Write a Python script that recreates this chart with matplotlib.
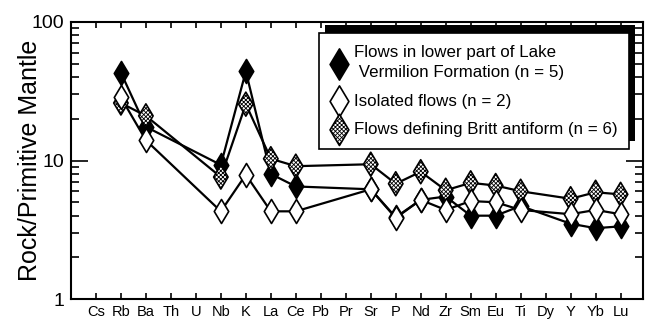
import matplotlib.pyplot as plt
from matplotlib.patches import Rectangle
from matplotlib.ticker import NullFormatter
from matplotlib.transforms import IdentityTransform

# element order on the x axis (spider diagram)
elements = ["Cs", "Rb", "Ba", "Th", "U", "Nb", "K", "La", "Ce", "Pb", "Pr",
            "Sr", "P", "Nd", "Zr", "Sm", "Eu", "Ti", "Dy", "Y", "Yb", "Lu"]
# elements that actually have analyses
analysed = ["Rb", "Ba", "Nb", "K", "La", "Ce", "Sr", "P", "Nd", "Zr",
            "Sm", "Eu", "Ti", "Y", "Yb", "Lu"]

lower_lake_vermilion = [43, 17.5, 9.3, 44, 8.0, 6.5, 6.2, 3.9, 5.2, 5.5,
                        4.0, 4.0, 4.7, 3.5, 3.25, 3.35]
isolated_flows = [28.5, 14, 4.3, 7.9, 4.3, 4.3, 6.2, 3.85, 5.2, 4.4,
                  5.1, 5.0, 4.4, 4.1, 4.4, 4.1]
britt_antiform = [26, 21, 7.6, 25.5, 10.3, 9.1, 9.4, 6.8, 8.3, 6.1,
                  6.9, 6.6, 6.0, 5.3, 5.9, 5.7]

labels = ["Flows in lower part of Lake\n Vermilion Formation (n = 5)",
          "Isolated flows (n = 2)",
          "Flows defining Britt antiform (n = 6)"]

plt.rcParams['font.family'] = ['Liberation Sans', 'DejaVu Sans']
plt.rcParams['hatch.linewidth'] = 0.6

fig, ax = plt.subplots(figsize=(6.45, 3.22), dpi=100)
fig.subplots_adjust(left=0.11, right=0.997, top=0.932, bottom=0.071)

xs = [elements.index(e) for e in analysed]

# lines first, markers on top
for vals in (lower_lake_vermilion, britt_antiform, isolated_flows):
    ax.plot(xs, vals, color='black', lw=1.6, zorder=2)

h_filled = ax.scatter(xs, lower_lake_vermilion, marker='d', s=150,
                      facecolor='black', edgecolor='black', lw=1.2, zorder=3)
h_britt = ax.scatter(xs, britt_antiform, marker='d', s=150, facecolor='white',
                     edgecolor='black', hatch='xxxxxxxx', lw=1.2, zorder=4)
h_open = ax.scatter(xs, isolated_flows, marker='d', s=150, facecolor='white',
                    edgecolor='black', lw=1.2, zorder=5)

ax.set_yscale('log')
ax.set_ylim(1, 100)
ax.set_xlim(-1, 21.9)
ax.set_yticks([1, 10, 100], ['1', '10', '100'], fontsize=14)
ax.yaxis.set_minor_formatter(NullFormatter())
ax.set_xticks(range(len(elements)), elements, fontsize=10.5)
ax.set_ylabel("Rock/Primitive Mantle", fontsize=18)
ax.yaxis.set_label_coords(-0.05, 0.5)

ax.tick_params(which='both', direction='in', top=True, right=True, width=1.2)
ax.tick_params(axis='x', length=4, pad=4)
ax.tick_params(axis='y', which='major', length=12, pad=5)
ax.tick_params(axis='y', which='minor', length=6)
for sp in ax.spines.values():
    sp.set_linewidth(1.5)

leg = ax.legend([h_filled, h_open, h_britt], labels, loc='upper right',
                bbox_to_anchor=(0.976, 0.96), borderaxespad=0, fontsize=12.2,
                frameon=True, fancybox=False, framealpha=1, edgecolor='black',
                markerscale=1.3, scatterpoints=1, handletextpad=0.35,
                labelspacing=0.8, borderpad=0.7, handlelength=1.0)
leg.get_frame().set_linewidth(1.2)
leg.set_zorder(10)
for t in leg.get_texts():
    t.set_linespacing(1.45)

# solid black drop shadow up and to the right of the legend box
fig.canvas.draw()
bb = leg.get_window_extent()
ax.add_patch(Rectangle((bb.x0 + 6, bb.y0 + 8), bb.width, bb.height,
                       transform=IdentityTransform(), facecolor='black',
                       edgecolor='none', zorder=9, clip_on=False))

fig.savefig("out.png", dpi=100)
